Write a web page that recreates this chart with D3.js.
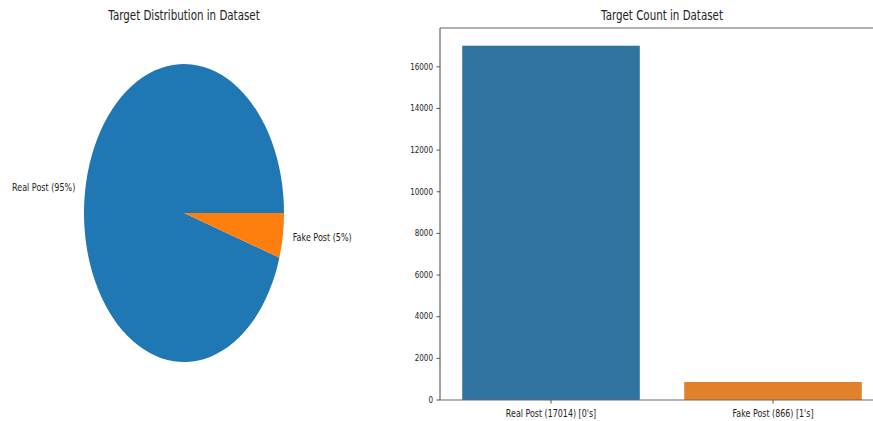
<!DOCTYPE html>
<html><head><meta charset="utf-8">
<script src="https://cdn.jsdelivr.net/npm/d3@7"></script>
<style>body{margin:0;background:#fff}text{font-family:"DejaVu Sans",sans-serif;fill:#222}</style>
</head><body>
<svg id="c" width="873" height="421"></svg>
<script>
const categories = ["Real Post", "Fake Post"];
const counts = [17014, 866];
const pieLabels = ["Real Post (95%)", "Fake Post (5%)"];
const barLabels = ["Real Post (17014) [0's]", "Fake Post (866) [1's]"];
const yTicks = [0, 2000, 4000, 6000, 8000, 10000, 12000, 14000, 16000];
const pieColors = ["#1f77b4", "#ff7f0e"];
const barColors = ["#3274a1", "#e1812c"];

(function () {
const svg = d3.select("#c");
const SX = 0.78;
function txt(g, x, y, s, size, anchor, base) {
  return g.append("text")
    .attr("transform", `translate(${x},${y}) scale(${SX},1)`)
    .attr("font-size", size)
    .attr("text-anchor", anchor || "middle")
    .attr("dominant-baseline", base || "auto")
    .text(s);
}

// ---------- Pie ----------
const cx = 184, cy = 213, rx = 100, ry = 149;
const pie = d3.pie().sort(null).value(d => d)
  .startAngle(Math.PI / 2).endAngle(Math.PI / 2 - 2 * Math.PI);
const arcs = pie(counts);
const arc = d3.arc().innerRadius(0).outerRadius(1);
const pg = svg.append("g");
pg.selectAll("path").data(arcs).join("path")
  .attr("transform", `translate(${cx},${cy}) scale(${rx},${ry})`)
  .attr("d", arc)
  .attr("fill", (d, i) => pieColors[i]);
arcs.forEach((d, i) => {
  const m = (d.startAngle + d.endAngle) / 2;
  const x = cx + 1.1 * rx * Math.sin(m);
  const y = cy - 1.1 * ry * Math.cos(m);
  txt(pg, x, y, pieLabels[i], 10.3, Math.sin(m) < 0 ? "end" : "start", "middle");
});
txt(pg, cx, 20, "Target Distribution in Dataset", 13.2);

// ---------- Bar ----------
const L = 440, R = 884, T = 28, B = 400;
const x = d3.scaleBand().domain(categories).range([L, R]).paddingInner(0.2).paddingOuter(0.1);
const y = d3.scaleLinear().domain([0, d3.max(counts) * 1.05]).range([B, T]);
const bg = svg.append("g");
bg.selectAll("rect").data(counts).join("rect")
  .attr("x", (d, i) => x(categories[i]))
  .attr("width", x.bandwidth())
  .attr("y", d => y(d))
  .attr("height", d => B - y(d))
  .attr("fill", (d, i) => barColors[i]);

bg.append("line").attr("x1", L).attr("x2", R).attr("y1", T).attr("y2", T).attr("stroke", "#666").attr("stroke-width", 1.2);
bg.append("line").attr("x1", L).attr("x2", R).attr("y1", B).attr("y2", B).attr("stroke", "#666").attr("stroke-width", 1.2);
bg.append("line").attr("x1", L).attr("x2", L).attr("y1", T).attr("y2", B).attr("stroke", "#666").attr("stroke-width", 1.2);

yTicks.forEach(t => {
  const yy = y(t);
  bg.append("line").attr("x1", L - 3.5).attr("x2", L).attr("y1", yy).attr("y2", yy).attr("stroke", "#555");
  txt(bg, L - 7, yy, String(t), 9.2, "end", "middle");
});
categories.forEach((c, i) => {
  const xx = x(c) + x.bandwidth() / 2;
  bg.append("line").attr("x1", xx).attr("x2", xx).attr("y1", B).attr("y2", B + 3.5).attr("stroke", "#555");
  txt(bg, xx, 417, barLabels[i], 10.2, "middle");
});
txt(bg, (L + R) / 2, 20, "Target Count in Dataset", 13.2);
})();
</script>
</body></html>
